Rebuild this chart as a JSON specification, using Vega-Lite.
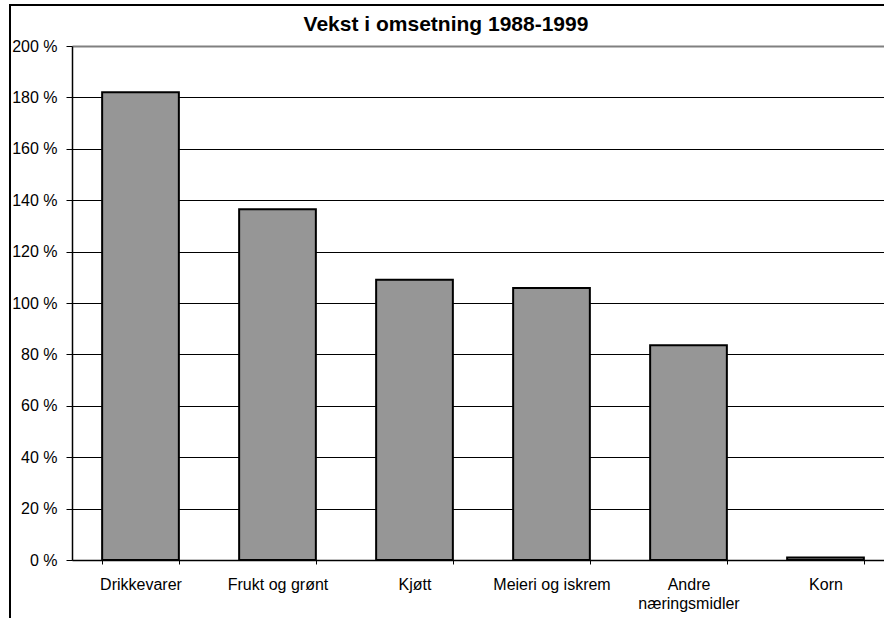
{
  "$schema": "https://vega.github.io/schema/vega-lite/v6.json",
  "autosize": {"type": "none"},
  "padding": {"left": 72, "top": 46, "right": 0, "bottom": 58},
  "width": 822,
  "height": 514,
  "background": "white",
  "config": {
    "font": "Liberation Sans",
    "view": {"stroke": null}
  },
  "title": {
    "text": "Vekst i omsetning 1988-1999",
    "fontSize": 21,
    "fontWeight": "bold",
    "font": "Liberation Sans",
    "color": "black",
    "anchor": "middle",
    "dx": -37,
    "offset": -8,
    "dy": 23
  },
  "data": {
    "values": [
      {"kategori": "Drikkevarer", "vekst": 182},
      {"kategori": "Frukt og grønt", "vekst": 136.5},
      {"kategori": "Kjøtt", "vekst": 109},
      {"kategori": "Meieri og iskrem", "vekst": 105.8},
      {"kategori": "Andre næringsmidler", "vekst": 83.6},
      {"kategori": "Korn", "vekst": 1}
    ]
  },
  "layer": [
    {
      "mark": {"type": "bar", "fill": "#969696", "stroke": "black", "strokeWidth": 2},
      "encoding": {
        "x": {
          "field": "kategori",
          "type": "nominal",
          "sort": null,
          "scale": {"paddingInner": 0.44, "paddingOuter": 0.22},
          "axis": {
            "title": null,
            "labelAngle": 0,
            "labelFontSize": 16,
            "labelColor": "black",
            "labelPadding": 12,
            "labelBaseline": "top",
            "tickBand": "extent",
            "tickSize": 4,
            "tickColor": "black",
            "domainColor": "black",
            "domainWidth": 1.5,
            "labelExpr": "datum.label == 'Andre næringsmidler' ? ['Andre', 'næringsmidler'] : datum.label",
            "labelLineHeight": 19
          }
        },
        "y": {
          "field": "vekst",
          "type": "quantitative",
          "scale": {"domain": [0, 200], "nice": false},
          "axis": {
            "title": null,
            "values": [0, 20, 40, 60, 80, 100, 120, 140, 160, 180, 200],
            "labelExpr": "datum.value + ' %'",
            "labelFontSize": 16,
            "labelColor": "black",
            "labelPadding": 9,
            "tickSize": 6,
            "tickColor": "black",
            "domainColor": "black",
            "domainWidth": 1.5,
            "grid": true,
            "gridColor": {"condition": {"test": "datum.value == 200", "value": "#808080"}, "value": "black"},
            "gridWidth": {"condition": {"test": "datum.value == 200", "value": 2}, "value": 1},
            "gridOpacity": 1
          }
        }
      }
    },
    {
      "mark": {"type": "rect", "fill": "transparent", "stroke": "black", "strokeWidth": 1.5},
      "encoding": {
        "x": {"value": -62},
        "x2": {"value": 900},
        "y": {"value": -41},
        "y2": {"value": 620}
      }
    }
  ]
}
